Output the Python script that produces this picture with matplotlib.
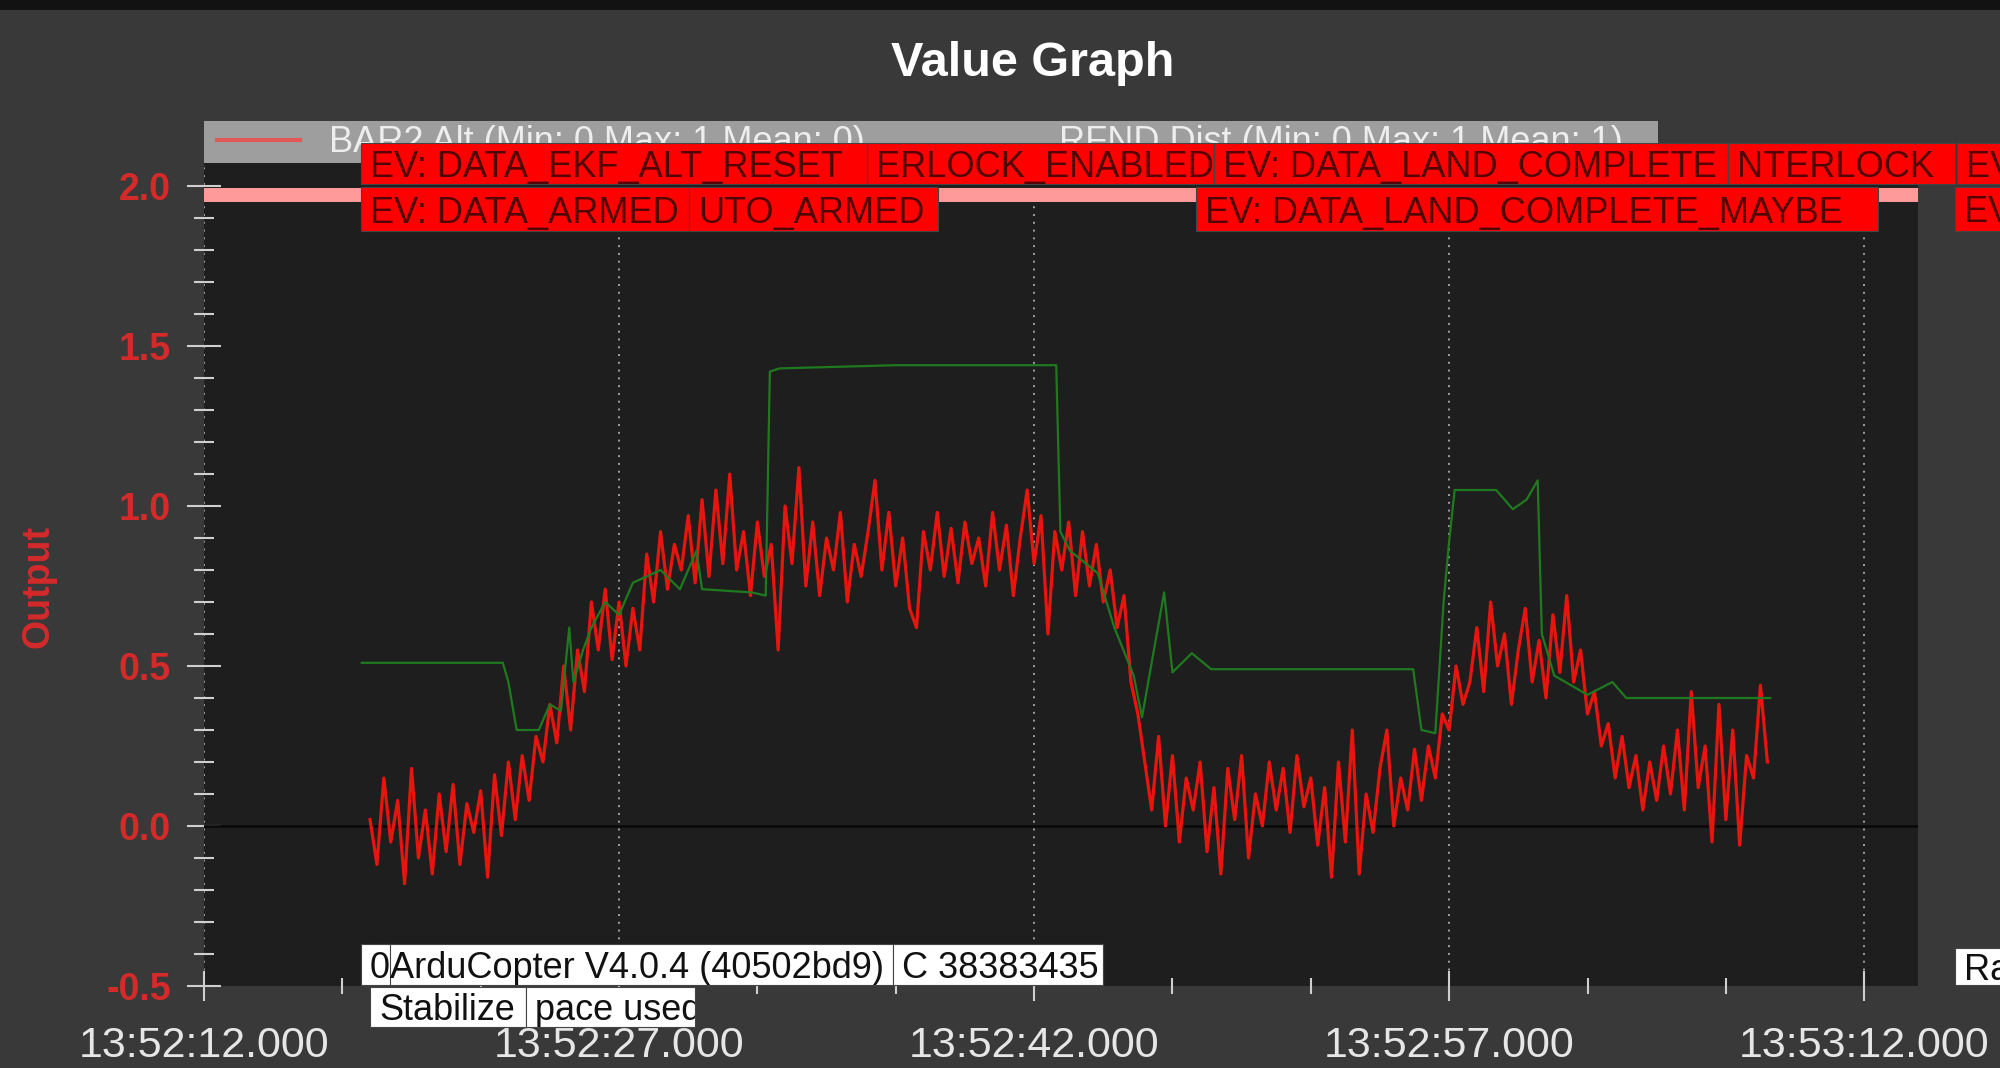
import numpy as np
import matplotlib.pyplot as plt
from matplotlib.patches import Rectangle
from matplotlib.ticker import MultipleLocator, FuncFormatter

plt.rcParams['font.family'] = ['Liberation Sans', 'DejaVu Sans']
plt.rcParams['axes.unicode_minus'] = False

W, H = 2000, 1068

# BAR2 Alt, sampled every 0.25 s starting 6 s after 13:52:12
red_start = 6.0
red_dt = 0.25
bar2_alt = [
    0.02, -0.12, 0.15, -0.05, 0.08, -0.18, 0.18, -0.10, 0.05, -0.15, 0.10, -0.08,
    0.13, -0.12, 0.07, -0.02, 0.11, -0.16, 0.16, -0.03, 0.20, 0.02, 0.22, 0.08,
    0.28, 0.20, 0.38, 0.26, 0.50, 0.30, 0.55, 0.42, 0.70, 0.55, 0.74, 0.52,
    0.70, 0.50, 0.68, 0.55, 0.85, 0.70, 0.92, 0.74, 0.88, 0.80, 0.97, 0.76,
    1.02, 0.78, 1.05, 0.82, 1.10, 0.80, 0.92, 0.72, 0.95, 0.78, 0.88, 0.55,
    1.00, 0.82, 1.12, 0.75, 0.95, 0.72, 0.90, 0.80, 0.98, 0.70, 0.88, 0.78,
    0.92, 1.08, 0.80, 0.98, 0.75, 0.90, 0.68, 0.62, 0.92, 0.80, 0.98, 0.78,
    0.93, 0.76, 0.95, 0.82, 0.90, 0.75, 0.98, 0.80, 0.94, 0.72, 0.90, 1.05,
    0.82, 0.97, 0.60, 0.92,
    0.80, 0.95, 0.72, 0.92, 0.75, 0.88, 0.70, 0.80, 0.62, 0.72, 0.45, 0.35,
    0.20, 0.05, 0.28, 0.00, 0.22, -0.05, 0.15, 0.05, 0.20, -0.08, 0.12, -0.15,
    0.18, 0.02, 0.22, -0.10, 0.10, 0.00, 0.20, 0.05, 0.18, -0.02, 0.22, 0.06,
    0.15, -0.06, 0.12, -0.16, 0.20, -0.05, 0.30, -0.15, 0.10, -0.02, 0.18, 0.30,
    0.00, 0.15, 0.05, 0.24, 0.08,
    0.25, 0.15, 0.35, 0.30, 0.50, 0.38,
    0.45, 0.62, 0.42, 0.70, 0.50, 0.60, 0.38, 0.55, 0.68, 0.45, 0.58, 0.40,
    0.66, 0.48, 0.72,
    0.45, 0.55, 0.35, 0.42, 0.25, 0.32,
    0.15, 0.28, 0.12, 0.22, 0.05, 0.20, 0.08, 0.25, 0.10, 0.30, 0.05, 0.42,
    0.12, 0.25, -0.05, 0.38, 0.02, 0.30, -0.06, 0.22, 0.15, 0.44, 0.20,
]

# RFND Dist (seconds after 13:52:12, value)
rfnd_t = [5.7, 10.8, 11.0, 11.3, 12.1, 12.5, 12.9, 13.2, 13.35, 13.7, 14.0, 14.5,
          15.0, 15.5, 16.0, 16.5, 17.2, 17.8, 18.0, 19.8, 20.3, 20.45, 20.8, 25.0,
          30.8, 30.95, 31.3, 32.3, 32.9, 33.6, 33.9, 34.7, 35.0, 35.7, 36.4, 43.7,
          44.0, 44.5, 44.8, 45.0, 45.2, 46.7, 47.3, 47.8, 48.2, 48.35, 48.8, 50.0,
          50.9, 51.4, 56.6]
rfnd_v = [0.51, 0.51, 0.45, 0.30, 0.30, 0.38, 0.36, 0.62, 0.45, 0.55, 0.62, 0.70,
          0.66, 0.76, 0.78, 0.80, 0.74, 0.86, 0.74, 0.73, 0.72, 1.42, 1.43, 1.44,
          1.44, 0.92, 0.86, 0.79, 0.62, 0.47, 0.34, 0.73, 0.48, 0.54, 0.49, 0.49,
          0.30, 0.29, 0.70, 0.89, 1.05, 1.05, 0.99, 1.02, 1.08, 0.60, 0.47, 0.41,
          0.45, 0.40, 0.40]

legend_labels = ['BAR2 Alt (Min: 0 Max: 1 Mean: 0)', 'RFND Dist (Min: 0 Max: 1 Mean: 1)']

# event / message boxes drawn over the graph, in pixels: (x0, x1, y0, y1, text)
red_boxes = [
    (361, 867, 143, 184, 'EV: DATA_EKF_ALT_RESET'),
    (867, 1214, 143, 184, 'ERLOCK_ENABLED'),
    (1214, 1728, 143, 184, 'EV: DATA_LAND_COMPLETE'),
    (1728, 1955, 143, 184, 'NTERLOCK'),
    (1957, 2040, 143, 184, 'EV: MOTOR'),
    (361, 689, 187, 231, 'EV: DATA_ARMED'),
    (689, 938, 187, 231, 'UTO_ARMED'),
    (1196, 1878, 187, 231, 'EV: DATA_LAND_COMPLETE_MAYBE'),
    (1955, 2040, 187, 231, 'EV: MOTOR'),
]
white_boxes = [
    (381, 893, 944, 985, 'ArduCopter V4.0.4 (40502bd9)'),
    (361, 390, 944, 985, '0'),
    (893, 1103, 944, 985, 'C 38383435'),
    (370, 526, 987, 1027, 'Stabilize'),
    (526, 695, 987, 1027, 'pace used'),
    (1955, 2040, 948, 985, 'RangeFinder'),
]


def hms(s, pos=None):
    tot = int(round(13 * 3600 + 52 * 60 + 12 + s))
    return '%02d:%02d:%02d.000' % (tot // 3600, (tot // 60) % 60, tot % 60)


fig = plt.figure(figsize=(20, 10.68), dpi=100, facecolor='#393939')
fig.add_artist(Rectangle((0, 1 - 10 / H), 1, 10 / H, transform=fig.transFigure,
                         facecolor='#121212', edgecolor='none'))

ax = fig.add_axes([204 / W, 1 - 986 / H, (1918 - 204) / W, (986 - 163) / H])
ax.set_facecolor('#1e1e1e')

t_red = red_start + red_dt * np.arange(len(bar2_alt))
ax.plot(t_red, bar2_alt, color='#e8150f', lw=2.3, zorder=3)
ax.plot(rfnd_t, rfnd_v, color='#1f7a1f', lw=1.6, zorder=4)

ax.axhline(0, color='#0a0a0a', lw=2, zorder=2)
ax.axhspan(1.95, 1.994, color='#ff9a9a', lw=0, zorder=5)

ax.set_xlim(0, (1918 - 204) / 27.67)
ax.set_ylim(-0.5, 2.0 + (186 - 163) / 320)

ax.xaxis.set_major_locator(MultipleLocator(15))
ax.xaxis.set_minor_locator(MultipleLocator(5))
ax.xaxis.set_major_formatter(FuncFormatter(hms))
ax.yaxis.set_major_locator(MultipleLocator(0.5))
ax.yaxis.set_minor_locator(MultipleLocator(0.1))
ax.yaxis.set_major_formatter(FuncFormatter(lambda v, p: '%.1f' % v))

ax.grid(axis='x', which='major', color='#a0a0a0', ls=(0, (1, 3)), lw=1.4, zorder=1)
for s in ax.spines.values():
    s.set_visible(False)

ax.tick_params(axis='x', which='major', direction='inout', length=22, width=1.5,
               color='#cfcfcf', labelcolor='#e6e6e6', labelsize=31, pad=18)
ax.tick_params(axis='x', which='minor', direction='inout', length=12, width=1.5,
               color='#cfcfcf')
ax.tick_params(axis='y', which='major', direction='inout', length=24, width=1.5,
               color='#cfcfcf', labelcolor='#d42a2a', labelsize=27, pad=12)
ax.tick_params(axis='y', which='minor', direction='inout', length=14, width=1.5,
               color='#cfcfcf')
for lab in ax.get_yticklabels():
    lab.set_fontweight('bold')

fig.text(38 / W, 1 - 587 / H, 'Output', rotation=90, color='#d42a2a',
         fontsize=27, fontweight='bold', ha='center', va='center')
fig.text(1033 / W, 1 - 64 / H, 'Value Graph', color='white', fontsize=35,
         fontweight='bold', ha='center', va='center')

# legend strip
fig.add_artist(Rectangle((204 / W, 1 - 163 / H), (1658 - 204) / W, 42 / H,
                         transform=fig.transFigure, facecolor='#9e9e9e',
                         edgecolor='none', zorder=6))
fig.add_artist(plt.Line2D([217 / W, 300 / W], [1 - 140 / H, 1 - 140 / H],
                          transform=fig.transFigure, color='#e05a5a', lw=3, zorder=7))
fig.text(329 / W, 1 - 152 / H, legend_labels[0], color='#eeeeee', fontsize=26,
         va='baseline', zorder=7)
fig.text(1059 / W, 1 - 152 / H, legend_labels[1], color='#eeeeee', fontsize=26,
         va='baseline', zorder=7)


def box(x0, x1, y0, y1, text, face, tcolor, z):
    r = Rectangle((x0 / W, 1 - y1 / H), (x1 - x0) / W, (y1 - y0) / H,
                  transform=fig.transFigure, facecolor=face, edgecolor='#444444',
                  lw=0.8, zorder=z)
    fig.add_artist(r)
    t = fig.text((x0 + 9) / W, 1 - (y0 + y1) / 2 / H, text, color=tcolor,
                 fontsize=26, ha='left', va='center_baseline', zorder=z + 0.5)
    t.set_clip_path(r)


for i, b in enumerate(red_boxes):
    box(*b, face='#ff0000', tcolor='#520404', z=8 + i * 0.01)
for i, b in enumerate(white_boxes):
    box(*b, face='white', tcolor='#111111', z=9 + i * 0.01)

fig.savefig('out.png', dpi=100, facecolor=fig.get_facecolor())
